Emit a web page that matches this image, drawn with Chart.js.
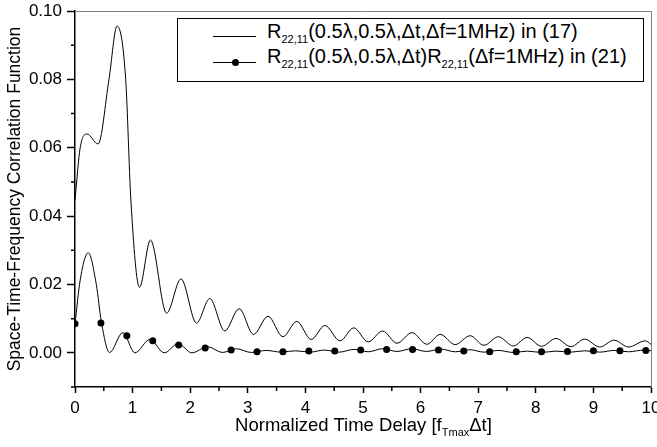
<!DOCTYPE html>
<html>
<head>
<meta charset="utf-8">
<script src="https://cdn.jsdelivr.net/npm/chart.js@4/dist/chart.umd.min.js"></script>
<style>
 body{margin:0;background:#fff;font-family:'Liberation Sans',Arial,sans-serif;}
 #wrap{position:relative;width:657px;height:447px;overflow:hidden;}
 #legend{position:absolute;left:177px;top:18px;width:465px;height:62px;border:1px solid #000;background:#fff;font-size:20px;color:#000;}
 .row{position:absolute;left:35px;white-space:nowrap;height:24px;line-height:22px;}
 .row .smp{position:absolute;left:0;width:43px;border-top:1px solid #000;}
 .row .dot{position:absolute;left:19px;top:-4px;width:7px;height:7px;border-radius:50%;background:#000;}
 .row .txt{position:absolute;left:54px;top:0;}
 sub{font-size:11px;vertical-align:-5px;line-height:0;}
 #xtitle{position:absolute;left:0;width:727px;top:414px;text-align:center;font-size:18.5px;white-space:nowrap;}
 #xtitle sub{font-size:11px;vertical-align:-5px;}
</style>
</head>
<body>
<div id="wrap">
 <canvas id="c"></canvas>
 <div id="legend">
  <div class="row" style="top:1px"><span class="smp" style="top:16px"></span><span class="txt">R<sub>22,11</sub>(0.5λ,0.5λ,Δt,Δf=1MHz) in (17)</span></div>
  <div class="row" style="top:26px"><span class="smp" style="top:17px"><span class="dot"></span></span><span class="txt">R<sub>22,11</sub>(0.5λ,0.5λ,Δt)R<sub>22,11</sub>(Δf=1MHz) in (21)</span></div>
 </div>
 <div id="xtitle">Normalized Time Delay [f<sub>Tmax</sub>Δt]</div>
</div>
<script>
// curve (17): peaks and troughs
const x17=[0,0.09,0.21,0.40,0.59,0.73,0.88,0.97,1.12,1.31,1.59,1.84,2.11,2.34,2.60,2.85,3.10,3.35,3.61,3.85,4.10,4.34,4.60,4.84,5.09,5.34,5.59,5.85,6.11,6.34,6.60,6.86,7.10,7.35,7.61,7.85,8.10,8.35,8.61,8.85,9.11,9.36,9.61,9.90,10];
const y17=[0.0447,0.0600,0.0640,0.0611,0.0800,0.0956,0.0800,0.0447,0.0192,0.0330,0.0116,0.0216,0.0087,0.0159,0.0064,0.0129,0.0054,0.0107,0.0047,0.0092,0.0039,0.0080,0.0035,0.0073,0.0032,0.0064,0.0028,0.0059,0.0025,0.0054,0.0024,0.0050,0.0022,0.0047,0.0020,0.0045,0.0019,0.0042,0.0018,0.0040,0.0017,0.0037,0.0017,0.0035,0.0025];
// curve (21)
const x21=[0,0.09,0.23,0.37,0.46,0.60,0.83,1.04,1.30,1.55,1.79,2.03,2.30,2.56,2.80,3.06,3.32,3.58,3.83,4.08,4.33,4.59,4.84,5.09,5.34,5.59,5.85,6.10,6.35,6.60,6.86,7.10,7.35,7.61,7.85,8.10,8.35,8.61,8.85,9.11,9.36,9.61,9.88,10];
const y21=[0.0084,0.0213,0.0293,0.0200,0.0088,0.0001,0.0059,0.0000,0.0039,0.0000,0.0027,0.0000,0.0018,0.0001,0.0012,0.0001,0.0007,0.0002,0.0006,0.0002,0.0008,0.0002,0.0010,0.0003,0.0012,0.0004,0.0012,0.0004,0.0011,0.0003,0.0009,0.0002,0.0007,0.0001,0.0005,0.0001,0.0005,0.0002,0.0006,0.0002,0.0007,0.0003,0.0008,0.0006];
// symbols on curve (21)
const xSym=[0,0.45,0.90,1.35,1.80,2.26,2.71,3.16,3.61,4.06,4.51,4.96,5.41,5.86,6.31,6.75,7.20,7.66,8.10,8.55,9.00,9.46,9.91];
const ySym=[0.0085,0.0087,0.0050,0.0035,0.0023,0.0014,0.0008,0.0003,0.0003,0.0005,0.0005,0.0008,0.0010,0.0010,0.0008,0.0005,0.0003,0.0003,0.0003,0.0004,0.0006,0.0006,0.0007];
const xTicks=[0,1,2,3,4,5,6,7,8,9,10];
const yTicks=[0,0.02,0.04,0.06,0.08,0.10];

const pts=(xs,ys)=>xs.map((v,i)=>({x:v,y:ys[i]}));
const fam="'Liberation Sans', Arial, sans-serif";

// minor ticks + grey frame
const frame={
 id:'frame',
 beforeDatasetsDraw(ch){
  const {ctx,chartArea:a,scales:{x,y}}=ch;
  ctx.save();
  ctx.strokeStyle='#808080';ctx.lineWidth=1;
  ctx.beginPath();ctx.moveTo(a.left,a.top+0.5);ctx.lineTo(a.right+0.5,a.top+0.5);ctx.lineTo(a.right+0.5,a.bottom);ctx.stroke();
  ctx.strokeStyle='#000';ctx.lineWidth=1.5;
  ctx.beginPath();
  for(let v=0.5;v<10;v+=1){const px=x.getPixelForValue(v);ctx.moveTo(px,a.bottom);ctx.lineTo(px,a.bottom+4);}
  for(let v=-0.01;v<0.1;v+=0.02){const py=y.getPixelForValue(v);ctx.moveTo(a.left,py);ctx.lineTo(a.left-4,py);}
  ctx.stroke();
  ctx.restore();
 }
};

new Chart(document.getElementById('c'),{
 type:'scatter',
 data:{datasets:[
  {data:pts(x17,y17),showLine:true,borderColor:'#000',borderWidth:1,pointRadius:0,cubicInterpolationMode:'monotone'},
  {data:pts(x21,y21),showLine:true,borderColor:'#000',borderWidth:1,pointRadius:0,cubicInterpolationMode:'monotone'},
  {data:pts(xSym,ySym),showLine:false,pointRadius:3.5,pointBackgroundColor:'#000',pointBorderColor:'#000',pointBorderWidth:0}
 ]},
 options:{
  responsive:true,maintainAspectRatio:false,animation:false,
  layout:{padding:{top:11,right:6,left:0,bottom:0}},
  plugins:{legend:{display:false},tooltip:{enabled:false}},
  scales:{
   x:{min:0,max:10,
    afterBuildTicks:s=>{s.ticks=xTicks.map(v=>({value:v}));},
    afterFit:s=>{s.height=60;s.paddingLeft=0;s.paddingRight=0;},
    ticks:{color:'#000',font:{family:fam,size:17},padding:5,maxRotation:0,autoSkip:false,callback:v=>String(v)},
    grid:{drawOnChartArea:false,tickLength:6,tickColor:'#000',tickWidth:1.5},
    border:{color:'#000',width:1.5}},
   y:{min:-0.01,max:0.10,
    afterBuildTicks:s=>{s.ticks=yTicks.map(v=>({value:v}));},
    afterFit:s=>{s.width=75;s.paddingTop=0;s.paddingBottom=0;},
    ticks:{color:'#000',font:{family:fam,size:17},padding:5,autoSkip:false,callback:v=>v.toFixed(2)},
    grid:{drawOnChartArea:false,tickLength:8,tickColor:'#000',tickWidth:1.5},
    border:{color:'#000',width:1.5},
    title:{display:true,text:'Space-Time-Frequency Correlation Function',color:'#000',font:{family:fam,size:17.5},padding:{top:5,bottom:0}}}
  }
 },
 plugins:[frame]
});
</script>
</body>
</html>
